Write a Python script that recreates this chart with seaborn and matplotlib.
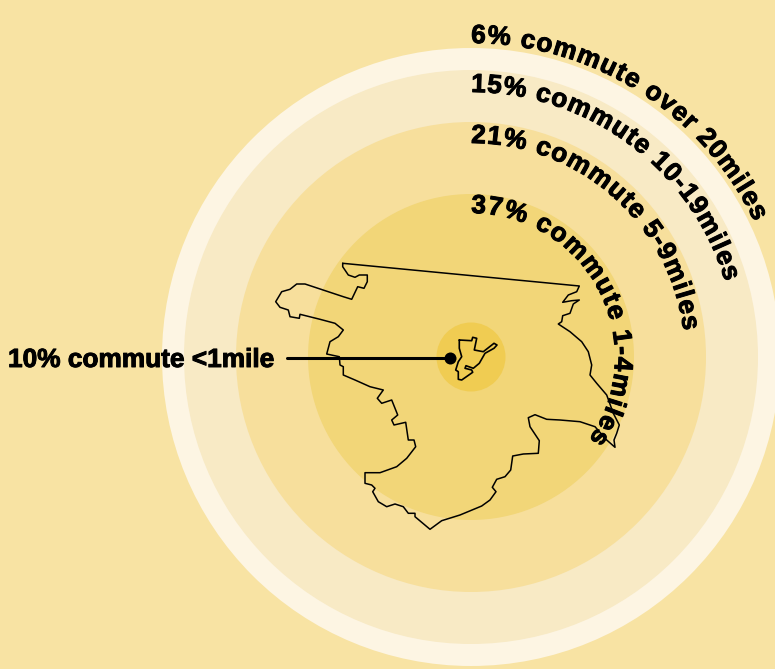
import math
import matplotlib
matplotlib.use('Agg')
import matplotlib.pyplot as plt
import matplotlib.patheffects as pe
from matplotlib.patches import Circle
from matplotlib.font_manager import FontProperties
import seaborn as sns

# labels, outermost ring first
ring_labels = ['6% commute over 20miles', '15% commute 10-19miles',
               '21% commute 5-9miles', '37% commute 1-4miles']
inner_label = '10% commute <1mile'

# ring sizes and the place the labels sit on
ring_radii = [309, 287, 235, 163, 34.5]
ring_colors = ['#FDF5E3', '#F8EAC5', '#F7DF9C', '#F2D678', '#F0CC52']
label_radii = [314, 265, 214, 144]
label_end_angles = [64.5, 73.5, 83, 125]
centre_x = 471
centre_y = 357

# town outline (pixels)
outer_x = [342.7, 579.3, 576.7, 568.3, 562.7, 571.7, 579.3, 573.3, 570.0, 562.7, 561.7, 558.3, 570.0,
           581.7, 588.3, 591.7, 590.0, 596.7, 606.7, 613.3, 619.3, 616.7, 614.0, 615.0, 606.7, 595.0,
           580.0, 560.0, 546.7, 535.0, 528.3, 530.0, 539.3, 538.3, 523.3, 512.7, 510.7, 505.0, 496.7,
           492.3, 496.0, 490.0, 481.7, 460.0, 441.7, 430.0, 415.0, 415.0, 408.3, 403.3, 395.0, 386.7,
           378.3, 372.7, 375.0, 371.7, 365.0, 365.0, 380.0, 396.7, 406.7, 415.7, 414.0, 408.3, 405.7,
           394.0, 391.7, 397.7, 391.7, 381.7, 377.3, 383.3, 370.0, 355.0, 343.3, 343.3, 340.0, 339.3,
           326.7, 330.0, 338.3, 343.3, 335.0, 320.0, 300.0, 299.3, 290.0, 288.3, 280.0, 275.7, 281.7,
           290.0, 296.7, 305.0, 343.3, 351.7, 357.7, 364.0, 367.3, 367.3, 359.3, 355.0, 348.3, 342.7,
           342.7]
outer_y = [263.3, 286.0, 291.7, 295.0, 302.3, 300.7, 300.0, 304.0, 313.3, 315.7, 321.7, 324.0, 331.7,
           341.7, 351.7, 365.0, 375.0, 383.3, 395.0, 413.3, 425.0, 433.3, 440.0, 447.3, 440.0, 426.7,
           421.7, 420.0, 419.3, 414.7, 417.7, 426.7, 440.7, 453.3, 454.0, 456.0, 470.0, 476.7, 479.3,
           487.3, 491.7, 500.0, 506.0, 515.0, 520.7, 529.3, 516.7, 513.3, 513.3, 506.7, 504.0, 506.7,
           501.7, 491.7, 488.3, 485.0, 483.3, 472.7, 472.7, 466.7, 458.3, 446.7, 440.0, 440.0, 422.3,
           425.0, 420.0, 415.0, 400.0, 403.3, 398.3, 390.0, 386.7, 380.0, 375.0, 366.7, 365.0, 356.7,
           354.0, 341.7, 336.7, 330.0, 323.3, 319.3, 314.3, 318.3, 316.7, 310.0, 307.3, 301.7, 291.7,
           289.3, 284.0, 284.0, 296.7, 299.3, 286.7, 288.3, 281.7, 275.0, 275.0, 277.3, 275.0, 266.7,
           263.3]
small_x = [459.3, 471.7, 472.7, 476.7, 474.3, 483.3, 494.0, 497.0, 494.0, 485.0, 479.3, 473.3, 466.0,
           465.0, 471.7, 472.7, 461.7, 458.3, 458.3, 455.7, 458.3, 461.7, 459.3, 459.3]
small_y = [340.0, 340.7, 337.3, 338.3, 350.0, 351.7, 343.3, 345.0, 348.3, 353.3, 363.3, 368.3, 365.7,
           368.3, 370.0, 372.3, 380.0, 379.3, 371.7, 370.0, 361.7, 356.7, 348.3, 340.0]

# pointer to the inner circle
pointer_x = [287, 450]
pointer_y = [358, 358]

sns.set_theme(style='white')
plt.rcParams['font.family'] = ['Liberation Sans', 'DejaVu Sans']
bg = '#F8E3A3'

fig = plt.figure(figsize=(7.75, 6.69), dpi=100, facecolor=bg)
ax = fig.add_axes([0, 0, 1, 1], facecolor=bg)
ax.set_xlim(0, 775)
ax.set_ylim(669, 0)
ax.axis('off')

for r, c in zip(ring_radii, ring_colors):
    ax.add_patch(Circle((centre_x, centre_y), r, facecolor=c, edgecolor='none', zorder=1))

sns.lineplot(x=outer_x, y=outer_y, sort=False, estimator=None, color='black', linewidth=1.1,
             solid_joinstyle='round', ax=ax, zorder=2)
sns.lineplot(x=small_x, y=small_y, sort=False, estimator=None, color='black', linewidth=1.2,
             solid_joinstyle='round', ax=ax, zorder=2)
sns.lineplot(x=pointer_x, y=pointer_y, sort=False, estimator=None, color='black', linewidth=2.2, ax=ax, zorder=3)
sns.scatterplot(x=pointer_x[1:], y=pointer_y[1:], color='black', s=75, linewidth=0, ax=ax, zorder=4)

font_size = 18.9
fp = FontProperties(family='Liberation Sans', weight='bold', size=font_size)
heavy = [pe.withStroke(linewidth=0.7, foreground='black')]
renderer = fig.canvas.get_renderer()


def text_width(s):
    return renderer.get_text_width_height_descent(s, fp, False)[0]


# one text per letter, walked clockwise along the ring
for label, r, end in zip(ring_labels, label_radii, label_end_angles):
    total = text_width(label)
    gap = (math.radians(end) * r - total) / (len(label) - 1)
    for i, ch in enumerate(label):
        mid = text_width(label[:i + 1]) - text_width(ch) / 2 + gap * i
        a = mid / r
        ax.text(centre_x + r * math.sin(a), centre_y - r * math.cos(a), ch,
                fontproperties=fp, color='black', rotation=-math.degrees(a),
                rotation_mode='anchor', ha='center', va='baseline', zorder=5, path_effects=heavy)

ax.text(8, 367, inner_label, fontproperties=fp, color='black', ha='left', va='baseline', zorder=5,
        path_effects=heavy)

fig.savefig('out.png', dpi=100, facecolor=bg)
